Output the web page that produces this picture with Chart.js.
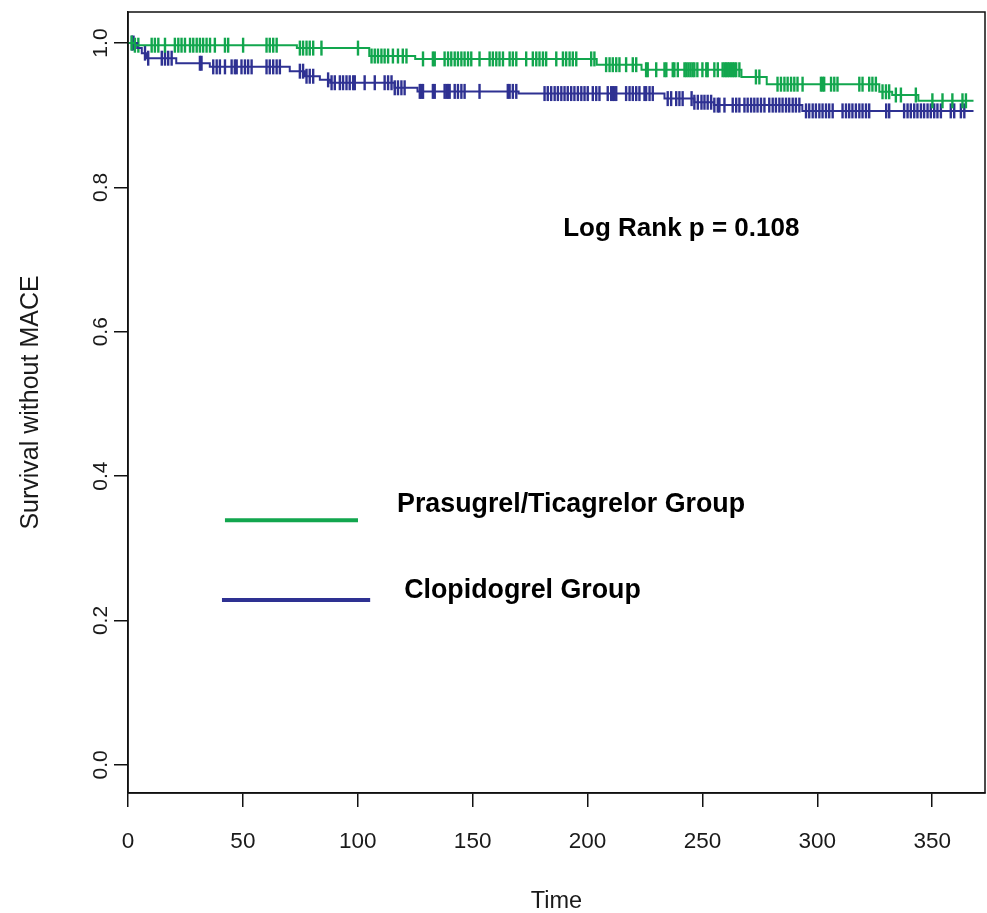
<!DOCTYPE html>
<html><head><meta charset="utf-8">
<script src="https://cdn.jsdelivr.net/npm/chart.js@4/dist/chart.umd.min.js"></script>
<style>html,body{margin:0;padding:0;background:#fff}#wrap{width:987px;height:913px}</style>
</head><body><div id="wrap"><canvas id="c" width="987" height="913"></canvas></div>
<script>
// ---- data ----
const xTicks = [0, 50, 100, 150, 200, 250, 300, 350];
const yTicks = [0.0, 0.2, 0.4, 0.6, 0.8, 1.0];
const xTitle = "Time";
const yTitle = "Survival without MACE";
const seriesNames = ["Prasugrel/Ticagrelor Group", "Clopidogrel Group"];
const pValueText = "Log Rank p = 0.108";

const greenTimes    = [0, 3, 73.5, 105, 125, 204, 223.5, 267, 278, 327, 332.6, 344, 368];
const greenSurvival = [1.0, 0.997, 0.993, 0.982, 0.978, 0.970, 0.963, 0.953, 0.943, 0.9325, 0.928, 0.920, 0.920];
const greenCensored = [1.6,3.0,4.5,10.3,11.7,13.2,16.1,20.4,21.9,23.3,24.8,27.0,28.4,29.9,31.3,32.7,34.2,35.7,37.8,42.2,43.6,50.1,60.3,61.7,63.2,64.7,74.8,76.2,77.7,79.1,80.6,84.2,100.1,106.0,107.4,108.8,110.3,111.7,113.2,115.3,117.5,119.6,121.2,128.4,132.7,133.5,137.8,139.3,140.7,142.2,143.6,145.1,146.5,148.0,149.4,153.0,157.4,158.8,160.3,161.7,163.2,166.1,167.5,169.0,173.3,176.2,177.7,179.1,180.6,182.0,186.4,189.3,190.7,192.2,193.6,195.1,201.6,203.0,208.1,209.6,211.0,212.5,213.9,216.8,219.7,221.2,225.5,226.2,229.9,233.5,234.3,237.1,237.8,239.3,242.2,243.0,243.9,244.8,245.7,246.5,247.8,250.0,251.7,252.3,255.2,256.7,258.8,259.6,260.3,261.0,261.7,262.5,263.2,263.9,264.7,266.1,273.3,274.8,282.7,284.2,285.7,287.1,288.6,290.0,291.4,293.6,301.6,302.3,303.0,306.0,307.4,308.8,318.3,319.7,322.6,324.0,325.5,328.4,329.9,331.3,334.2,336.4,342.9,350.1,354.5,358.8,363.2,364.7];

const blueTimes    = [0, 4, 6, 8, 21, 35.6, 70.4, 77, 83.5, 88, 116, 126, 170, 233.5, 246.5, 255, 293.5, 368];
const blueSurvival = [1.0, 0.993, 0.986, 0.979, 0.972, 0.967, 0.961, 0.954, 0.949, 0.945, 0.938, 0.933, 0.930, 0.923, 0.918, 0.914, 0.906, 0.906];
const blueCensored = [1.7,2.4,7.4,8.8,14.7,16.1,17.5,19.0,31.3,32.0,37.1,38.6,40.0,42.2,45.1,46.5,47.3,49.4,50.9,52.3,53.8,60.3,61.7,63.2,64.7,66.1,74.8,76.2,77.7,79.1,80.6,87.1,88.6,90.0,92.2,93.6,95.1,96.5,98.0,98.7,103.0,107.4,111.7,113.2,114.7,116.1,117.5,119.0,120.4,127.0,127.7,128.4,132.7,133.5,137.8,138.6,139.3,140.0,142.2,143.6,145.1,146.5,153.0,165.3,166.1,167.5,169.0,181.3,182.7,184.2,185.7,187.1,188.6,190.0,191.4,192.9,194.3,195.8,197.3,198.7,200.1,202.3,203.8,205.2,208.8,210.3,211.0,211.7,212.5,216.8,218.3,219.7,221.2,222.6,224.8,225.5,227.0,228.4,234.9,236.4,238.6,240.0,241.4,245.3,246.5,248.0,249.6,250.9,252.3,253.8,255.2,256.7,257.4,259.6,263.2,264.7,266.1,268.3,269.7,271.2,272.6,274.0,275.5,277.0,279.1,280.6,282.0,283.5,284.9,286.4,287.8,289.3,290.7,292.2,295.1,296.5,298.0,299.4,300.9,302.3,303.8,305.2,306.7,311.0,312.5,313.9,315.3,316.8,318.3,319.7,321.2,322.6,330.0,331.3,337.8,339.3,340.7,342.2,343.6,345.1,346.5,348.0,349.4,350.9,352.3,353.8,358.1,359.6,362.5,364.0];

// ---- styling ----
const GREEN = '#12a64e';
const BLUE = '#2e3192';
const FONT = '"Liberation Sans", Arial, Helvetica, sans-serif';

function stepValue(times, surv, t) {
  let v = surv[0];
  for (let i = 0; i < times.length; i++) { if (times[i] <= t) v = surv[i]; else break; }
  return v;
}
const curve = (times, surv) => times.map((t, i) => ({x: t, y: surv[i]}));
const marks = (cens, times, surv) => cens.map(t => ({x: t, y: stepValue(times, surv, t)}));

const overlay = {
  id: 'overlay',
  afterDraw(chart) {
    const {ctx, chartArea: a, scales: {x, y}} = chart;
    ctx.save();
    // box
    ctx.strokeStyle = '#111'; ctx.lineWidth = 1.5;
    ctx.strokeRect(a.left, a.top, a.right - a.left, a.bottom - a.top);
    // rotated y tick labels
    ctx.fillStyle = '#1a1a1a';
    ctx.font = '21px ' + FONT;
    ctx.textAlign = 'center'; ctx.textBaseline = 'middle';
    yTicks.forEach(v => {
      const py = y.getPixelForValue(v);
      ctx.save(); ctx.translate(a.left - 27, py); ctx.rotate(-Math.PI / 2);
      ctx.fillText(v.toFixed(1), 0, 0); ctx.restore();
    });
    // p-value
    ctx.fillStyle = '#000';
    ctx.font = 'bold 26px ' + FONT;
    ctx.textAlign = 'left';
    ctx.fillText(pValueText, x.getPixelForValue(189.4), y.getPixelForValue(0.742));
    // legend
    ctx.font = 'bold 26.8px ' + FONT;
    const leg = [
      {c: GREEN, x0: 42.2, x1: 100.1, ly: 0.339, tx: 117.1, ty: 0.360, s: seriesNames[0]},
      {c: BLUE, x0: 40.9, x1: 105.4, ly: 0.2285, tx: 120.2, ty: 0.242, s: seriesNames[1]}
    ];
    leg.forEach(l => {
      ctx.strokeStyle = l.c; ctx.lineWidth = 4; ctx.lineCap = 'butt';
      ctx.beginPath();
      ctx.moveTo(x.getPixelForValue(l.x0), y.getPixelForValue(l.ly));
      ctx.lineTo(x.getPixelForValue(l.x1), y.getPixelForValue(l.ly));
      ctx.stroke();
      ctx.fillText(l.s, x.getPixelForValue(l.tx), y.getPixelForValue(l.ty));
    });
    ctx.restore();
  }
};

new Chart(document.getElementById('c'), {
  type: 'scatter',
  data: {
    datasets: [
      {label: seriesNames[0], data: curve(greenTimes, greenSurvival), showLine: true, stepped: true,
       borderColor: GREEN, borderWidth: 2, pointRadius: 0},
      {label: seriesNames[1], data: curve(blueTimes, blueSurvival), showLine: true, stepped: true,
       borderColor: BLUE, borderWidth: 2, pointRadius: 0},
      {label: 'censor1', data: marks(greenCensored, greenTimes, greenSurvival), showLine: false,
       pointStyle: 'line', rotation: 90, pointRadius: 7.5, borderColor: GREEN, backgroundColor: GREEN, pointBorderWidth: 2.4},
      {label: 'censor2', data: marks(blueCensored, blueTimes, blueSurvival), showLine: false,
       pointStyle: 'line', rotation: 90, pointRadius: 7.5, borderColor: BLUE, backgroundColor: BLUE, pointBorderWidth: 2.4}
    ]
  },
  options: {
    responsive: false, animation: false, devicePixelRatio: 1,
    layout: {autoPadding: false, padding: {top: 12, right: 2, left: 0, bottom: 0}},
    plugins: {legend: {display: false}, tooltip: {enabled: false}},
    scales: {
      x: {
        type: 'linear', min: 0, max: 373, position: 'bottom',
        afterBuildTicks: s => { s.ticks = xTicks.map(v => ({value: v})); },
        afterFit: s => { s.height = 120; s.paddingLeft = 0; s.paddingRight = 0; },
        grid: {display: true, drawOnChartArea: false, drawTicks: true, tickLength: 14, color: '#111', lineWidth: 1.5},
        border: {display: true, color: '#111', width: 1.5},
        ticks: {font: {family: FONT, size: 22.5}, color: '#1a1a1a', padding: 21, maxRotation: 0, autoSkip: false},
        title: {display: true, text: xTitle, font: {family: FONT, size: 23.5, lineHeight: 1.0}, color: '#1a1a1a', padding: {top: 0, bottom: 0}}
      },
      y: {
        type: 'linear', min: -0.039, max: 1.043, position: 'left',
        afterBuildTicks: s => { s.ticks = yTicks.map(v => ({value: v})); },
        afterFit: s => { s.width = 128; s.paddingTop = 0; s.paddingBottom = 0; },
        grid: {display: true, drawOnChartArea: false, drawTicks: true, tickLength: 14, color: '#111', lineWidth: 1.5},
        border: {display: true, color: '#111', width: 1.5},
        ticks: {display: false},
        title: {display: true, text: yTitle, font: {family: FONT, size: 25}, color: '#1a1a1a', padding: {top: 16, bottom: 0}}
      }
    }
  },
  plugins: [overlay]
});
</script>
</body></html>
